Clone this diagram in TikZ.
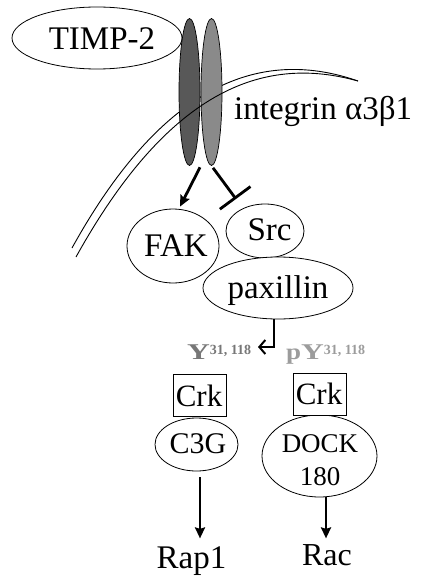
\documentclass[tikz,border=0pt]{standalone}
\usepackage{fontspec}
\usepackage{graphicx}
\setmainfont{Liberation Serif}
\usetikzlibrary{shapes.geometric,arrows.meta,calc}
\definecolor{intdark}{HTML}{585858}
\definecolor{intlight}{HTML}{8A8A8A}
\definecolor{ygray}{HTML}{777777}
\definecolor{pygray}{HTML}{9C9C9C}
\tikzset{
  oval/.style={ellipse, draw, fill=white, inner sep=0pt, line width=0.8pt},
  crkbox/.style={rectangle, draw, fill=white, inner sep=0pt, line width=0.8pt,
                 minimum width=53pt, minimum height=42pt},
  subunit/.style={ellipse, draw, inner sep=0pt, line width=0.7pt,
                  minimum width=21pt, minimum height=147pt},
  lbl/.style={anchor=base, inner sep=0pt},
  bigtxt/.style={font=\fontsize{33}{38}\selectfont},
  ytxt/.style={anchor=base west, inner sep=0pt, font=\bfseries\fontsize{22.5}{24}\selectfont},
  membrane/.style={line width=0.9pt},
  act/.style={line width=2.8pt, -{Stealth[length=11pt,width=10pt,inset=1.5pt]}},
  inh/.style={line width=2.8pt, -{Bar[width=38pt]}},
  dephos/.style={line width=2pt, -{Straight Barb[length=6pt,width=14pt]}}
}
\newcommand{\ysup}[1]{\raisebox{5pt}{\fontsize{14}{15}\selectfont #1}}
\newcommand{\wideY}{\scalebox{1.4}[1]{Y}}
\newcommand{\wideP}{\scalebox{1.2}[1]{p}}
\begin{document}
\begin{tikzpicture}[x=1pt,y=-1pt]
\useasboundingbox (0,0) rectangle (426,583);

% membrane, outer line (behind receptor)
\draw[membrane] (72,248) .. controls (166.5,77) and (266,49) .. (358,81);

% TIMP-2
\node[oval, minimum width=170pt, minimum height=62pt] (timp) at (97,38) {};
\node[lbl, bigtxt] (timptxt) at (102,50) {TIMP-2};

% integrin subunits
\node[subunit, fill=intlight] (intB) at (211.5,92) {};
\node[subunit, fill=intdark] (intA) at (189.5,92) {};

% membrane, inner line (over receptor)
\draw[membrane] (76,257) .. controls (172,84) and (268,56) .. (358,81);

\node[anchor=base west, inner sep=0pt, bigtxt] (intlbl) at (234,120) {integrin α3β1};

% FAK, Src, paxillin
\node[oval, minimum width=92pt, minimum height=74pt] (fak) at (173,246) {};
\node[lbl, bigtxt] (faktxt) at (176,256) {FAK};
\node[oval, minimum width=78pt, minimum height=54pt] (src) at (265,231) {};
\node[lbl, bigtxt] (srctxt) at (269.5,240) {Src};
\node[oval, minimum width=150pt, minimum height=62pt] (pax) at (278,288) {};
\node[lbl, bigtxt] (paxtxt) at (278,298) {paxillin};

% receptor outputs
\draw[act] ($(intA.south)+(10.5,1.5)$) -- ($(fak.north)+(7,-2)$);
\draw[inh] ($(intB.south)+(1.5,2)$) -- ($(src.center)+(-29,-32)$);

% phosphotyrosines
\coordinate (ytip) at (258,347);
\draw[dephos] ($(pax.south)+(-4,0)$) |- (ytip);
\node[ytxt, text=ygray] (ylbl) at (187,359) {\wideY\ysup{31, 118}};
\node[ytxt, text=pygray] (pylbl) at (286,359) {\wideP\wideY\ysup{31, 118}};

% Crk / C3G branch
\node[oval, minimum width=83pt, minimum height=53pt] (c3g) at (196.5,444.5) {};
\node[lbl, font=\fontsize{30}{34}\selectfont] (c3gtxt) at (198,453) {C3G};
\node[crkbox] (crk1) at (199.5,395) {};
\node[lbl, font=\fontsize{31}{34}\selectfont] (crk1txt) at (199,406) {Crk};
\draw[act] ($(c3g.south)+(3.5,6)$) -- ($(c3g.south)+(3.5,67)$);
\node[lbl, bigtxt] (rap1) at (191.5,568) {Rap1};

% Crk / DOCK180 branch
\node[oval, minimum width=115pt, minimum height=82pt] (dock) at (319.5,456) {};
\node[lbl, font=\fontsize{27}{30}\selectfont] (docktxt) at (320,452) {DOCK};
\node[lbl, font=\fontsize{27}{30}\selectfont] (docknum) at (320,485) {180};
\node[crkbox] (crk2) at (319.5,394) {};
\node[lbl, font=\fontsize{31}{34}\selectfont] (crk2txt) at (319,404) {Crk};
\draw[act] ($(dock.south)+(6.5,0)$) -- ($(dock.south)+(6.5,41)$);
\node[lbl, font=\fontsize{32}{36}\selectfont] (rac) at (327,565) {Rac};
\end{tikzpicture}
\end{document}
